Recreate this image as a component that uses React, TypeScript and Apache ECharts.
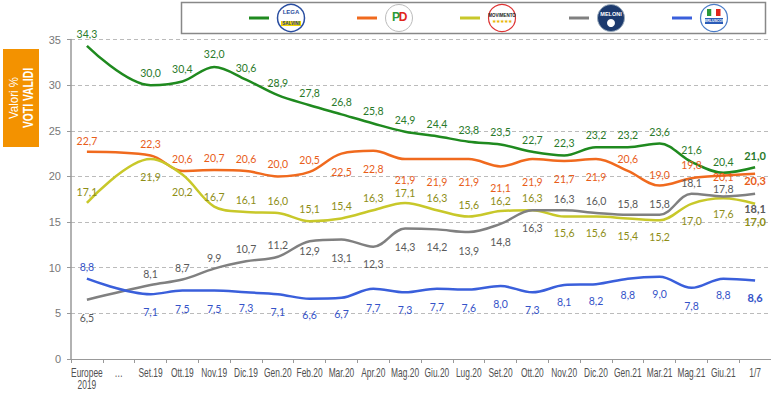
import React, { useEffect, useRef } from "react";
import * as echarts from "echarts";

const categories = [
  "Europee\n2019", "…", "Set.19", "Ott.19", "Nov.19", "Dic.19", "Gen.20", "Feb.20",
  "Mar.20", "Apr.20", "Mag.20", "Giu.20", "Lug.20", "Set.20", "Ott.20", "Nov.20",
  "Dic.20", "Gen.21", "Mar.21", "Mag.21", "Giu.21", "1/7",
];

const lega = [34.3, null, 30.0, 30.4, 32.0, 30.6, 28.9, 27.8, 26.8, 25.8, 24.9, 24.4, 23.8, 23.5, 22.7, 22.3, 23.2, 23.2, 23.6, 21.6, 20.4, 21.0];
const pd = [22.7, null, 22.3, 20.6, 20.7, 20.6, 20.0, 20.5, 22.5, 22.8, 21.9, 21.9, 21.9, 21.1, 21.9, 21.7, 21.9, 20.6, 19.0, 19.8, 20.1, 20.3];
const m5s = [17.1, null, 21.9, 20.2, 16.7, 16.1, 16.0, 15.1, 15.4, 16.3, 17.1, 16.3, 15.6, 16.2, 16.3, 15.6, 15.6, 15.4, 15.2, 17.0, 17.6, 17.0];
const fdi = [6.5, null, 8.1, 8.7, 9.9, 10.7, 11.2, 12.9, 13.1, 12.3, 14.3, 14.2, 13.9, 14.8, 16.3, 16.3, 16.0, 15.8, 15.8, 18.1, 17.8, 18.1];
const fi = [8.8, null, 7.1, 7.5, 7.5, 7.3, 7.1, 6.6, 6.7, 7.7, 7.3, 7.7, 7.6, 8.0, 7.3, 8.1, 8.2, 8.8, 9.0, 7.8, 8.8, 8.6];

const yTicks = { min: 0, max: 35, interval: 5 };

// label vertical offsets (px, label centre relative to the point)
const legaDy = [-12, 0, -12, -12, -13, -12, -12, -12, -12, -12, -12, -12, -12, -12, -12, -12, -12, -12, -12, -12, -11, -12];
const pdDy = [-11, 0, -11, -12, -12, -12, -12, -12, 18, 18, 21, 23, 23, 22, 23, 18, 18, -12, -11, -13, 1, 7];
const m5sDy = [-11, 0, 18, 17, -10, -12, -12, -12, -12, -12, -10, -12, -12, -10, -12, 16, 16, 18, 17, 17, 16, 18];
const fdiDy = [18, 0, -11, -12, -11, -12, -12, 10, 19, 17, 19, 18, 19, 18, 18, -11, -12, -11, -11, -11, -8, 15];
const fiDy = [-12, 0, 18, 18, 18, 16, 18, 16, 16, 19, 18, 18, 18, 18, 18, 17, 17, 16, 17, 18, 16, 17];

const fmt = (v: number) => v.toFixed(1).replace(".", ",");

function makeSeries(name: string, values: (number | null)[], dy: number[], lineColor: string, labelColor: string) {
  const last = values.length - 1;
  return {
    name,
    type: "line",
    smooth: 0.35,
    connectNulls: true,
    symbol: "circle",
    symbolSize: 2,
    itemStyle: { color: "rgba(0,0,0,0)" },
    lineStyle: { color: lineColor, width: 2.5 },
    label: {
      show: true,
      position: "inside",
      color: labelColor,
      fontFamily: "Lato, 'Open Sans', sans-serif",
      fontSize: 10.5,
      formatter: (p: any) => fmt(Number(p.value)),
    },
    data: values.map((v, i) =>
      v == null
        ? "-"
        : {
            value: v,
            label: { offset: [0, dy[i]], fontWeight: i === last ? "bold" : "normal", fontSize: i === last ? 11 : 10.5 },
          }
    ),
  };
}

const Z = 100;

function logoGroup(cx: number, cy: number, lineColor: string, kind: string) {
  const el: any[] = [
    { type: "line", shape: { x1: cx - 42, y1: cy, x2: cx - 22, y2: cy }, style: { stroke: lineColor, lineWidth: 3 } },
  ];
  const t = (x: number, y: number, text: string, fill: string, size: number, bold = true) => ({
    type: "text", x, y,
    style: { text, fill, fontSize: size, fontWeight: bold ? "bold" : "normal", fontFamily: "'Liberation Sans', sans-serif", align: "center", verticalAlign: "middle" },
  });
  if (kind === "lega") {
    el.push(
      { type: "circle", shape: { cx, cy, r: 13.5 }, style: { fill: "#fff", stroke: "#2a4ea0", lineWidth: 1.5 } },
      t(cx, cy - 6, "LEGA", "#2a4ea0", 6),
      { type: "rect", shape: { x: cx - 10, y: cy + 3, width: 20, height: 5 }, style: { fill: "#f2d500" } },
      t(cx, cy + 5.5, "SALVINI", "#1c3f94", 4.5)
    );
  } else if (kind === "pd") {
    el.push(
      { type: "circle", shape: { cx, cy, r: 13.5 }, style: { fill: "#fff", stroke: "#bbb", lineWidth: 1 } },
      t(cx - 3, cy - 1, "P", "#2a9a3a", 12),
      t(cx + 4, cy - 1, "D", "#e1251b", 12)
    );
  } else if (kind === "m5s") {
    el.push(
      { type: "circle", shape: { cx, cy, r: 13.5 }, style: { fill: "#fff", stroke: "#d33", lineWidth: 1.2 } },
      t(cx, cy - 3, "MOVIMENTO", "#222", 4.5),
      t(cx, cy + 3, "★★★★★", "#e8b400", 4.5, false)
    );
  } else if (kind === "fdi") {
    el.push(
      { type: "circle", shape: { cx, cy, r: 13.5 }, style: { fill: "#1c3a6e", stroke: "#9ab", lineWidth: 1 } },
      t(cx, cy - 4, "MELONI", "#fff", 5.5),
      { type: "circle", shape: { cx, cy: cy + 5, r: 4 }, style: { fill: "#fff" } }
    );
  } else if (kind === "fi") {
    el.push(
      { type: "circle", shape: { cx, cy, r: 13.5 }, style: { fill: "#fff", stroke: "#4a7cc8", lineWidth: 1.2 } },
      { type: "rect", shape: { x: cx - 7, y: cy - 9, width: 4.5, height: 7 }, style: { fill: "#2a9a3a" } },
      { type: "rect", shape: { x: cx - 2.5, y: cy - 9, width: 4.5, height: 7 }, style: { fill: "#fff" } },
      { type: "rect", shape: { x: cx + 2, y: cy - 9, width: 4.5, height: 7 }, style: { fill: "#e1251b" } },
      { type: "rect", shape: { x: cx - 9, y: cy, width: 18, height: 6 }, style: { fill: "#2a5cb8" } },
      t(cx, cy + 3, "BERLUSCONI", "#fff", 3.5)
    );
  }
  return el.map((e) => ({ ...e, z: Z }));
}

export default function App() {
  const ref = useRef<HTMLDivElement>(null);
  useEffect(() => {
    if (!ref.current) return;
    const chart = echarts.init(ref.current, undefined, { renderer: "svg" });
    const narrow = "'Liberation Sans', sans-serif";
    const staticGraphic: any[] = [
      {
        type: "rect",
        shape: { x: 181.5, y: 2.5, width: 584, height: 31 },
        style: { fill: "#fff", stroke: "#888", lineWidth: 1.5 },
        z: Z - 1,
      },
      ...logoGroup(291, 18, "#1f8a1f", "lega"),
      ...logoGroup(399, 18, "#f06a1e", "pd"),
      ...logoGroup(502, 18, "#c8c82a", "m5s"),
      ...logoGroup(611, 18, "#808080", "fdi"),
      ...logoGroup(714, 18, "#3a5fdb", "fi"),
      {
        type: "rect",
        shape: { x: 3, y: 49, width: 36, height: 98 },
        style: { fill: "#f39200" },
        z: Z,
      },
      {
        type: "text",
        x: 14,
        y: 98,
        rotation: Math.PI / 2,
        scaleX: 0.85,
        style: { text: "Valori %", fill: "#fff", fontSize: 13.5, fontFamily: narrow, align: "center", verticalAlign: "middle" },
        z: Z + 1,
      },
      {
        type: "text",
        x: 28,
        y: 98,
        rotation: Math.PI / 2,
        scaleX: 0.74,
        style: { text: "VOTI VALIDI", fill: "#fff", fontSize: 14, fontWeight: "bold", fontFamily: narrow, align: "center", verticalAlign: "middle" },
        z: Z + 1,
      },
    ];
    const option: any = {
      animation: false,
      backgroundColor: "#fff",
      grid: { left: 71, right: 0, top: 39.5, bottom: 36, containLabel: false },
      xAxis: {
        type: "category",
        data: categories,
        boundaryGap: true,
        axisLine: { show: true, lineStyle: { color: "#999", width: 1 } },
        axisTick: { show: true, interval: 0, length: 4, lineStyle: { color: "#999" } },
        axisLabel: { show: false },
      },
      yAxis: {
        type: "value",
        min: yTicks.min,
        max: yTicks.max,
        interval: yTicks.interval,
        axisLine: { show: true, lineStyle: { color: "#999", width: 1.5 } },
        axisTick: { show: true, length: 4, lineStyle: { color: "#999" } },
        axisLabel: { color: "#777", fontSize: 11, margin: 10, fontFamily: "'Liberation Sans', sans-serif" },
        splitLine: { show: true, lineStyle: { color: "#bbb", type: [4, 3], width: 1 } },
      },
      series: [
        makeSeries("Lega", lega, legaDy, "#1f8a1f", "#2a7a2a"),
        makeSeries("PD", pd, pdDy, "#f06a1e", "#e85d1a"),
        makeSeries("M5S", m5s, m5sDy, "#c8c82a", "#8e8e16"),
        makeSeries("FdI", fdi, fdiDy, "#808080", "#5a5a5a"),
        makeSeries("FI", fi, fiDy, "#3a5fdb", "#3553c8"),
      ],
      graphic: staticGraphic,
    };
    chart.setOption(option);
    // condensed category labels placed through the axis scale
    const y0 = chart.convertToPixel({ yAxisIndex: 0 }, yTicks.min) as number;
    const catLabels = categories.map((c, i) => ({
      type: "text",
      x: chart.convertToPixel({ xAxisIndex: 0 }, i) as number,
      y: y0 + 8,
      scaleX: 0.7,
      style: {
        text: c,
        fill: "#505050",
        fontSize: 12,
        lineHeight: 12,
        fontFamily: narrow,
        align: "center",
        verticalAlign: "top",
      },
      z: Z,
    }));
    chart.setOption({ graphic: [...staticGraphic, ...catLabels] });
    return () => chart.dispose();
  }, []);
  return <div ref={ref} style={{ position: "fixed", left: 0, top: 0, width: 771, height: 395 }} />;
}
